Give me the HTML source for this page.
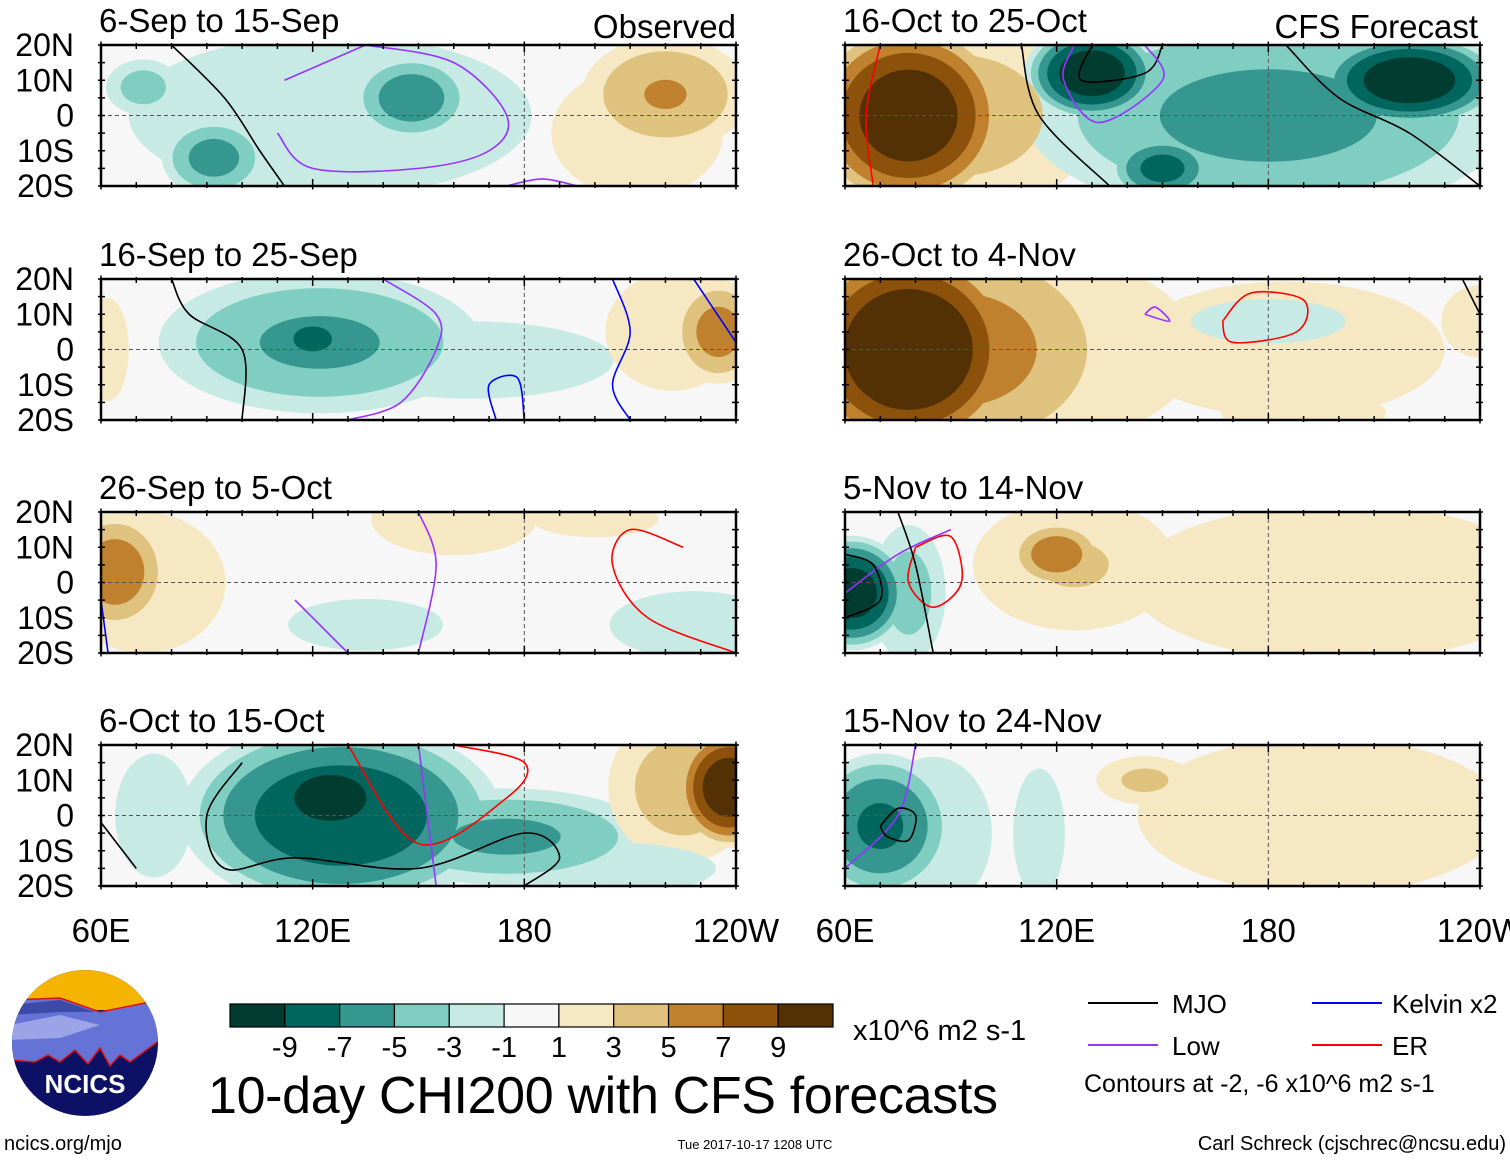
<!DOCTYPE html>
<html><head><meta charset="utf-8"><style>
body{margin:0;background:#fff;width:1510px;height:1159px;overflow:hidden;font-family:"Liberation Sans",sans-serif}
svg text{font-family:"Liberation Sans",sans-serif}
</style></head><body>
<svg id="chart" width="1510" height="1159" xmlns="http://www.w3.org/2000/svg"></svg>
<script>
// colorbar data
const levels=[-9,-7,-5,-3,-1,1,3,5,7,9];
const colors=["#003c30","#01665e","#35978f","#80cdc1","#c7eae5","#f7f7f7","#f6e8c3","#dfc27d","#bf812d","#8c510a","#543005"];
const lonTicks=["60E","120E","180","120W"];
const lonTickVals=[60,120,180,240];
const latTicks=["20N","10N","0","10S","20S"];
const latTickVals=[20,10,0,-10,-20];
const panelTitles=["6-Sep to 15-Sep","16-Sep to 25-Sep","26-Sep to 5-Oct","6-Oct to 15-Oct","16-Oct to 25-Oct","26-Oct to 4-Nov","5-Nov to 14-Nov","15-Nov to 24-Nov"];
// anomaly centres per panel: [lon, lat, radiusLon, radiusLat, peak]
const blobs0=[[125,0,75,30,-2.2],[148,5,18,13,-6.5],[92,-12,16,12,-6],[72,8,12,9,-4],[220,6,26,18,5.2],[212,-5,32,24,2.2]];
const blobs1=[[122,2,50,22,-5.5],[120,3,14,9,-8],[165,-3,55,15,-2],[62,0,8,20,2],[235,5,14,16,6],[222,5,25,22,2.2]];
const blobs2=[[64,3,16,18,6.5],[72,0,28,24,3],[160,18,32,14,2],[135,-12,30,10,-2],[228,-12,30,12,-2.5],[200,18,28,8,1.6]];
const blobs3=[[128,0,48,28,-9],[125,5,22,14,-11],[175,-6,45,15,-5.5],[238,8,16,18,11],[225,8,24,24,4.2],[75,0,15,24,-2],[205,-15,40,10,-2]];
const blobs4=[[78,0,30,28,11],[92,0,45,32,4],[130,12,20,14,-11],[220,10,28,14,-11],[180,0,75,32,-5.8],[150,-15,16,10,-8],[240,10,10,12,-2]];
const blobs5=[[78,0,34,32,12],[92,0,50,36,6],[122,0,45,30,3],[185,0,70,30,1.6],[180,8,28,8,-2.4],[190,-18,28,8,3],[240,8,15,14,2]];
const blobs6=[[62,-3,17,17,-10.5],[78,-3,12,22,-4],[120,8,14,10,6.5],[125,5,34,22,3.2],[200,0,85,32,1.8]];
const blobs7=[[70,-3,22,22,-7.5],[85,-5,20,26,-3],[145,10,16,8,3.5],[195,0,75,32,1.8],[115,-5,12,30,-1.5]];
const allBlobs=[blobs0,blobs1,blobs2,blobs3,blobs4,blobs5,blobs6,blobs7];
// contour lines per panel: [type, [[lon,lat],...]]
const contours=[
 [["mjo",[[80,20],[95,5],[105,-10],[112,-20]]],["low",[[112,10],[135,20]]],["low",[[135,20],[160,15],[175,0],[170,-10],[150,-15],[120,-15],[110,-5]]],["low",[[175,-20],[185,-18],[195,-20]]]],
 [["mjo",[[80,20],[85,10],[100,0],[100,-20]]],["low",[[140,20],[155,10],[155,0],[145,-15],[130,-20]]],["kelvin",[[205,20],[210,5],[205,-10],[210,-20]]],["kelvin",[[228,20],[240,2]]],["kelvin",[[172,-20],[170,-10],[178,-8],[180,-20]]]],
 [["low",[[150,20],[155,5],[150,-20]]],["low",[[115,-5],[125,-15],[130,-20]]],["er",[[225,10],[210,15],[205,5],[215,-10],[240,-20]]],["kelvin",[[60,-5],[62,-20]]]],
 [["mjo",[[60,-2],[70,-15]]],["mjo",[[100,15],[90,0],[95,-15],[115,-12],[150,-15],[180,-5],[190,-12],[180,-20]]],["er",[[130,20],[150,-8],[175,5],[180,15],[160,20]]],["low",[[150,20],[155,-20]]]],
 [["er",[[70,20],[66,0],[68,-20]]],["mjo",[[110,20],[115,0],[135,-20]]],["mjo",[[130,20],[127,10],[145,12],[150,20]]],["low",[[125,20],[122,10],[132,-2],[150,10],[145,20]]],["mjo",[[185,20],[200,5],[220,-5],[240,-20]]]],
 [["low",[[145,10],[152,8],[148,12],[145,10]]],["er",[[167,8],[175,16],[190,14],[188,5],[170,2],[167,8]]],["mjo",[[235,20],[240,10]]]],
 [["low",[[60,-3],[75,8],[90,15]]],["er",[[80,10],[90,13],[93,0],[85,-7],[78,0],[80,10]]],["mjo",[[75,20],[80,5],[85,-20]]],["mjo",[[60,-10],[70,-5],[68,5],[60,8]]]],
 [["low",[[80,20],[75,0],[60,-15]]],["mjo",[[70,-3],[75,2],[80,0],[78,-7],[72,-6],[70,-3]]]]
];
const lineColors={mjo:"#000",low:"#9933ff",kelvin:"#0000ff",er:"#ff0000"};
const svg=document.getElementById('chart');
const NS="http://www.w3.org/2000/svg";
function mk(tag,attrs,parent){const e=document.createElementNS(NS,tag);for(const k in attrs)e.setAttribute(k,attrs[k]);(parent||svg).appendChild(e);return e;}
function smooth(pts){let d='M'+pts[0][0]+','+pts[0][1];
  for(let i=0;i<pts.length-1;i++){const p0=pts[Math.max(i-1,0)],p1=pts[i],p2=pts[i+1],p3=pts[Math.min(i+2,pts.length-1)];
    const c1=[p1[0]+(p2[0]-p0[0])/6,p1[1]+(p2[1]-p0[1])/6],c2=[p2[0]-(p3[0]-p1[0])/6,p2[1]-(p3[1]-p1[1])/6];
    d+=' C'+c1[0]+','+c1[1]+' '+c2[0]+','+c2[1]+' '+p2[0]+','+p2[1];}
  return d;}
const PW=635,PH=141;
const panelPos=[[101,45],[101,279],[101,512],[101,745],[845,45],[845,279],[845,512],[845,745]];
function colorFor(v){let i=0;while(i<levels.length&&v>levels[i])i++;return colors[i];}
panelPos.forEach((p,pi)=>{
  const [px,py]=p;
  const xs=lon=>px+(lon-60)/180*PW;
  const ys=lat=>py+(20-lat)/40*PH;
  const g=mk('g',{});
  
  
  const cp=mk('clipPath',{id:'cp'+pi},g);mk('rect',{x:px,y:py,width:PW,height:PH},cp);
  const fg=mk('g',{'clip-path':'url(#cp'+pi+')'},g);
  mk('rect',{x:px,y:py,width:PW,height:PH,fill:'#f7f7f7'},fg);
  const bl=allBlobs[pi];
  const thr=[1,3,5,7,9];
  thr.forEach(t=>{
    bl.forEach(b=>{
      const a=Math.abs(b[4]);if(a<=t)return;
      const s=Math.pow(1-t/a,0.45);
      const val=Math.sign(b[4])*(t+1);
      const el=mk('ellipse',{cx:xs(b[0]),cy:ys(b[1]),rx:b[2]*s/180*PW,ry:b[3]*s/40*PH,fill:colorFor(val)},fg);
      
      
    });
  });
  mk('line',{x1:px,x2:px+PW,y1:ys(0),y2:ys(0),stroke:'#555','stroke-dasharray':'4,3','stroke-width':1},fg);
  mk('line',{x1:xs(180),x2:xs(180),y1:py,y2:py+PH,stroke:'#555','stroke-dasharray':'4,3','stroke-width':1},fg);
  contours[pi].forEach(c=>{
    const pts=c[1].map(q=>[xs(q[0]),ys(q[1])]);
    const el=mk('path',{d:smooth(pts),fill:'none',stroke:lineColors[c[0]],'stroke-width':1.6},fg);
    
    
  });
  mk('rect',{x:px,y:py,width:PW,height:PH,fill:'none',stroke:'#000','stroke-width':2.5},g);
  for(let lon=60;lon<=240;lon+=10){const x=xs(lon);const l=lon%60==0?7:4;
    mk('line',{x1:x,x2:x,y1:py-l/2,y2:py+l,stroke:'#000','stroke-width':1.5},g);
    mk('line',{x1:x,x2:x,y1:py+PH-l,y2:py+PH+l/2,stroke:'#000','stroke-width':1.5},g);}
  for(let lat=-20;lat<=20;lat+=5){const y=ys(lat);
    mk('line',{x1:px-3,x2:px+4,y1:y,y2:y,stroke:'#000','stroke-width':1.5},g);
    mk('line',{x1:px+PW-4,x2:px+PW+3,y1:y,y2:y,stroke:'#000','stroke-width':1.5},g);}
  const tt=mk('text',{x:px-2,y:py-13,'font-size':33},g);tt.textContent=panelTitles[pi];
  
  if(pi<4){latTicks.forEach((t,i)=>{const e=mk('text',{x:74,y:ys(latTickVals[i])+11,'font-size':32,'text-anchor':'end'},g);e.textContent=t;
    });}
  if(pi==3||pi==7){lonTicks.forEach((t,i)=>{const e=mk('text',{x:xs(lonTickVals[i]),y:942,'font-size':33,'text-anchor':'middle'},g);e.textContent=t;
    });}
});
let t=mk('text',{x:736,y:38,'font-size':33,'text-anchor':'end'});t.textContent='Observed';

t=mk('text',{x:1478,y:38,'font-size':33,'text-anchor':'end'});t.textContent='CFS Forecast';

// colorbar
const cb=mk('g',{});
const bw=(833-230)/colors.length;
colors.forEach((c,i)=>mk('rect',{x:230+i*bw,y:1004,width:bw,height:23,fill:c,stroke:'#000','stroke-width':1.2},cb));
levels.forEach((l,i)=>{const e=mk('text',{x:230+(i+1)*bw,y:1057,'font-size':29,'text-anchor':'middle'},cb);e.textContent=l;});
t=mk('text',{x:853,y:1040,'font-size':29});t.textContent='x10^6 m2 s-1';

t=mk('text',{x:208,y:1113,'font-size':52,textLength:790});t.textContent='10-day CHI200 with CFS forecasts';

// legend
const lg=mk('g',{});
[["MJO","#000",1088,1172,1003],["Low","#9933ff",1088,1172,1045],["Kelvin x2","#0000ff",1312,1392,1003],["ER","#ff0000",1312,1392,1045]].forEach(a=>{
  mk('line',{x1:a[2],x2:a[2]+70,y1:a[4],y2:a[4],stroke:a[1],'stroke-width':2},lg);
  const e=mk('text',{x:a[3],y:a[4]+10,'font-size':26},lg);e.textContent=a[0];});
t=mk('text',{x:1084,y:1092,'font-size':25},lg);t.textContent='Contours at -2, -6 x10^6 m2 s-1';
t=mk('text',{x:4,y:1150,'font-size':20});t.textContent='ncics.org/mjo';

t=mk('text',{x:755,y:1149,'font-size':13,'text-anchor':'middle'});t.textContent='Tue 2017-10-17 1208 UTC';

t=mk('text',{x:1506,y:1150,'font-size':20,'text-anchor':'end'});t.textContent='Carl Schreck (cjschrec@ncsu.edu)';

// logo
const lo=mk('g',{});
const lcp=mk('clipPath',{id:'logoclip'},lo);mk('circle',{cx:85,cy:1043,r:73},lcp);
const lg2=mk('g',{'clip-path':'url(#logoclip)'},lo);
mk('rect',{x:10,y:968,width:150,height:150,fill:'#0c1166'},lg2);
mk('rect',{x:10,y:968,width:150,height:42,fill:'#f5b400'},lg2);
mk('path',{d:'M10,1000 L60,998 L100,1012 L160,1000 L160,1040 L130,1062 L120,1055 L110,1066 L100,1048 L88,1064 L75,1050 L60,1062 L48,1055 L35,1062 L10,1060 Z',fill:'#6673d6',stroke:'#e01010','stroke-width':1.5},lg2);
mk('path',{d:'M10,1025 L60,1015 L100,1025 L60,1038 L10,1040Z',fill:'#9aa4e6'},lg2);
mk('path',{d:'M10,1005 L60,1000 L95,1012 L60,1012 L10,1015Z',fill:'#3d4aa8'},lg2);
t=mk('text',{x:85,y:1093,'font-size':26,'font-weight':'bold','text-anchor':'middle',fill:'#fff'},lo);t.textContent='NCICS';
</script>
</body></html>
